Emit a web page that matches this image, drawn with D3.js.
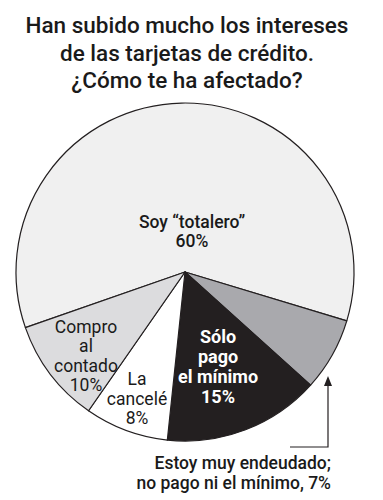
<!DOCTYPE html>
<html><head><meta charset="utf-8">
<script src="https://cdn.jsdelivr.net/npm/d3@7"></script>
<style>body{margin:0;background:#fff}svg{display:block}text{font-family:Roboto,"Noto Sans",sans-serif}</style>
</head><body>
<svg id="c" width="383" height="500"></svg>
<script>
const titleLines = ["Han subido mucho los intereses","de las tarjetas de crédito.","¿Cómo te ha afectado?"];
const categories = ["Soy “totalero”","Estoy muy endeudado; no pago ni el mínimo","Sólo pago el mínimo","La cancelé","Compro al contado"];
const values = [60,7,15,8,10];
const colors = ["#f0f0f0","#a9a9ad","#231f20","#ffffff","#dcdcde"];
const labelLines = [["Soy “totalero”","60%"],[],["Sólo","pago","el mínimo","15%"],["La","cancelé","8%"],["Compro","al","contado","10%"]];
const noteLines = ["Estoy muy endeudado;","no pago ni el mínimo, 7%"];

const svg = d3.select("#c");
const cx=185, cy=272, r=169;

svg.append("g").selectAll("text").data(titleLines).join("text")
  .attr("x",187).attr("y",(d,i)=>33+i*27.5).attr("text-anchor","middle")
  .attr("font-size",22.5).attr("font-weight",500).attr("fill","#1a1a1a").text(d=>d);

const start=-109.2*Math.PI/180;
const pie=d3.pie().sort(null).startAngle(start).endAngle(start+2*Math.PI);
const arcs=pie(values);
const arc=d3.arc().innerRadius(0).outerRadius(r);
const g=svg.append("g").attr("transform",`translate(${cx},${cy})`);
g.selectAll("path").data(arcs).join("path").attr("d",arc)
  .attr("fill",(d,i)=>colors[i]).attr("stroke","#231f20").attr("stroke-width",1.2).attr("stroke-linejoin","round");

const labelPos=[[7,-44],null,[33,71],[-48,113],[-99,61]];
const lh=[19,0,20,19.5,19.3];
const weights=[500,0,700,400,400];
const sizes=[17.5,0,18,17.5,17.5];
arcs.forEach((a,i)=>{
  if(!labelPos[i]) return;
  const lines=labelLines[i];
  const [lx,ly]=labelPos[i];
  const t=g.append("text").attr("text-anchor","middle")
    .attr("font-size",sizes[i]).attr("font-weight",weights[i])
    .attr("fill",i===2?"#fff":"#1a1a1a");
  lines.forEach((l,k)=>{
    t.append("tspan").attr("x",lx).attr("y",ly+k*lh[i]).text(l);
  });
});

svg.append("path").attr("d",`M290,447 H328 V384`).attr("fill","none").attr("stroke","#231f20").attr("stroke-width",1.2);
svg.append("path").attr("d",`M324,386 L328,376 L332,386 Z`).attr("fill","#231f20");
svg.append("g").selectAll("text").data(noteLines).join("text")
  .attr("x",331).attr("y",(d,i)=>469+i*20).attr("text-anchor","end")
  .attr("font-size",17.5).attr("font-weight",500).attr("fill","#1a1a1a").text(d=>d);
</script>
</body></html>
